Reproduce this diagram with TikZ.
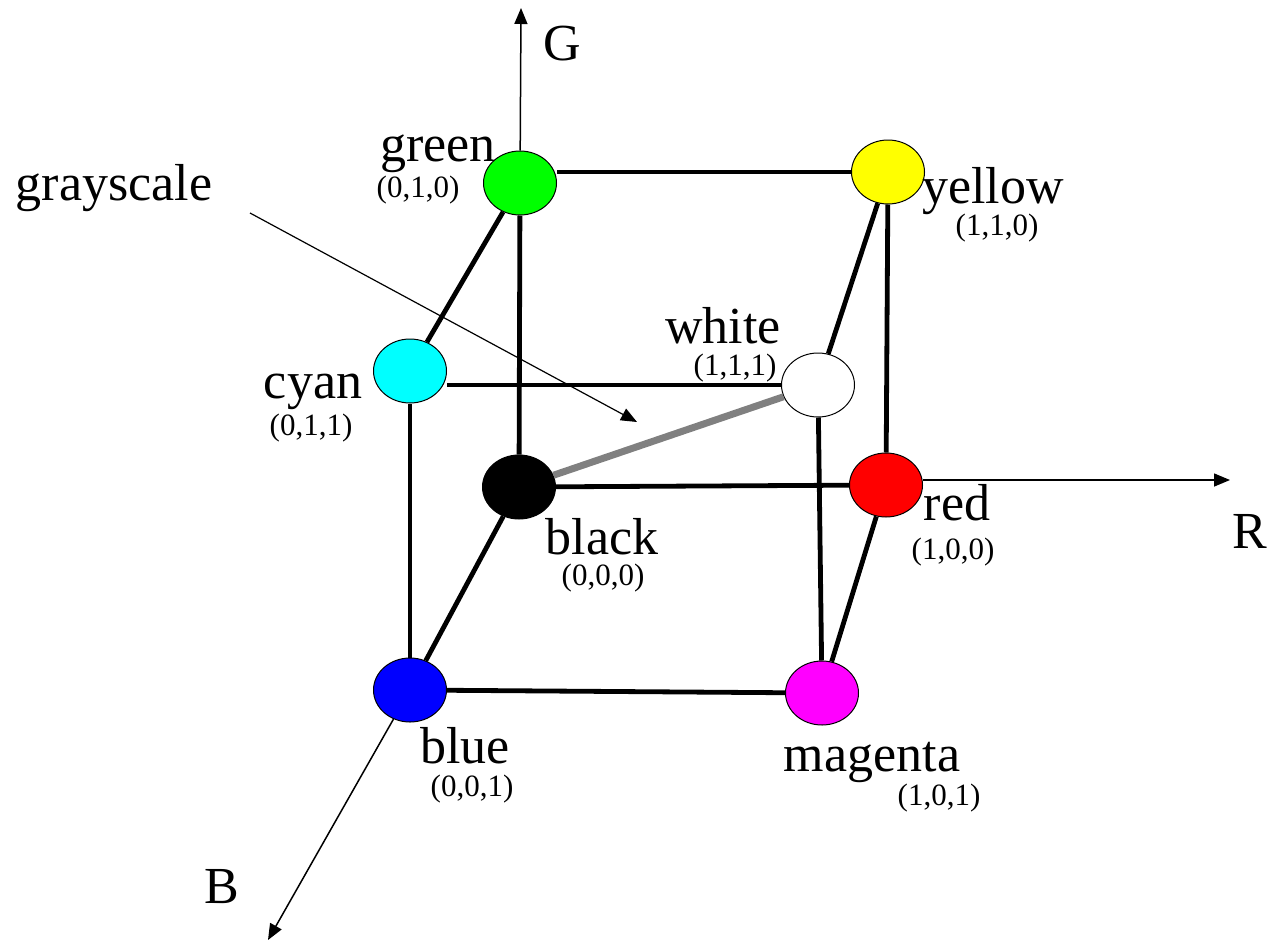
\documentclass[tikz,border=0pt]{standalone}
\usepackage{fontspec}
\setmainfont{Liberation Serif}
\usepackage{xcolor}
\usetikzlibrary{shapes.geometric, arrows.meta}
\definecolor{cgreen}{rgb}{0,1,0}
\definecolor{ccyan}{rgb}{0,1,1}
\definecolor{cyellow}{rgb}{1,1,0}
\definecolor{cred}{rgb}{1,0,0}
\definecolor{cblue}{rgb}{0,0,1}
\definecolor{cmagenta}{rgb}{1,0,1}
\definecolor{graydiag}{rgb}{0.5,0.5,0.5}

\begin{document}
\begin{tikzpicture}[
    x=0.5pt, y=-0.5pt,
    vertex/.style={ellipse, draw=black, line width=0.5pt, inner sep=0pt, minimum width=36.5pt, minimum height=32pt},
    colname/.style={inner sep=0pt, anchor=base, font=\fontsize{26}{30}\selectfont},
    coords/.style={inner sep=0pt, anchor=base, font=\fontsize{15.5}{18}\selectfont},
    cubeedge/.style={line width=2.4pt, black},
    axisline/.style={line width=0.75pt, -{Triangle[length=8pt,width=6.5pt]}},
]
    \useasboundingbox (0,0) rectangle (1268,942);

    % corners of the cube
    \node[vertex, fill=cgreen] (green) at (520,183) {};
    \node[vertex, fill=cyellow] (yellow) at (888,172) {};
    \node[vertex, fill=ccyan] (cyan) at (410,371) {};
    \node[vertex, fill=white] (white) at (818,385) {};
    \node[vertex, fill=black] (black) at (519,487) {};
    \node[vertex, fill=cred] (red) at (886,485) {};
    \node[vertex, fill=cblue] (blue) at (410,690) {};
    \node[vertex, fill=cmagenta] (magenta) at (822,693) {};

    % axis ends
    \coordinate (Gtip) at (521,8);
    \coordinate (Rtip) at (1230,480);
    \coordinate (Btip) at (268,940);
    \coordinate (gsfrom) at (250,213);
    \coordinate (gsto) at (637,422);

    % axes
    \draw[axisline] (green) -- (Gtip);
    \draw[axisline] (red.east |- Rtip) -- (Rtip);
    \draw[axisline] (blue) -- (Btip);

    % edges
    \draw[cubeedge] (green.east |- yellow.west) -- (yellow.west);
    \draw[cubeedge] (green) -- (black);
    \draw[cubeedge] (green) -- (cyan);
    \draw[cubeedge] (yellow) -- (red);
    \draw[cubeedge] (yellow) -- (white);
    \draw[cubeedge] (cyan.east |- white.west) -- (white.west);
    \draw[cubeedge] (cyan) -- (blue);
    \draw[cubeedge] (white) -- (magenta);
    \draw[cubeedge] (black) -- (red);
    \draw[cubeedge] (black) -- (blue);
    \draw[cubeedge] (red) -- (magenta);
    \draw[cubeedge] (blue) -- (magenta);
    \draw[line width=3.5pt, graydiag] (black) -- (white);

    % grayscale pointer
    \draw[line width=0.6pt, -{Triangle[length=8pt,width=6.5pt]}] (gsfrom) -- (gsto);

    % labels
    \node[colname] (lgray) at (114,200) {grayscale};
    \node[colname] (lgreen) at (438,161) {green};
    \node[coords] (tgreen) at (418,197) {(0,1,0)};
    \node[colname] (lyellow) at (993,203) {yellow};
    \node[coords] (tyellow) at (997,235) {(1,1,0)};
    \node[colname] (lwhite) at (723,343) {white};
    \node[coords] (twhite) at (735,375) {(1,1,1)};
    \node[colname] (lcyan) at (313,398) {cyan};
    \node[coords] (tcyan) at (311,435) {(0,1,1)};
    \node[colname] (lblack) at (602,554) {black};
    \node[coords] (tblack) at (603,585) {(0,0,0)};
    \node[colname] (lred) at (957,520) {red};
    \node[coords] (tred) at (953,559) {(1,0,0)};
    \node[colname] (lblue) at (465,763) {blue};
    \node[coords] (tblue) at (472,796) {(0,0,1)};
    \node[colname] (lmagenta) at (872,771) {magenta};
    \node[coords] (tmagenta) at (939,805) {(1,0,1)};
    \node[colname] (lG) at (562,60) {G};
    \node[colname] (lR) at (1250,548) {R};
    \node[colname] (lB) at (222,903) {B};
\end{tikzpicture}
\end{document}
